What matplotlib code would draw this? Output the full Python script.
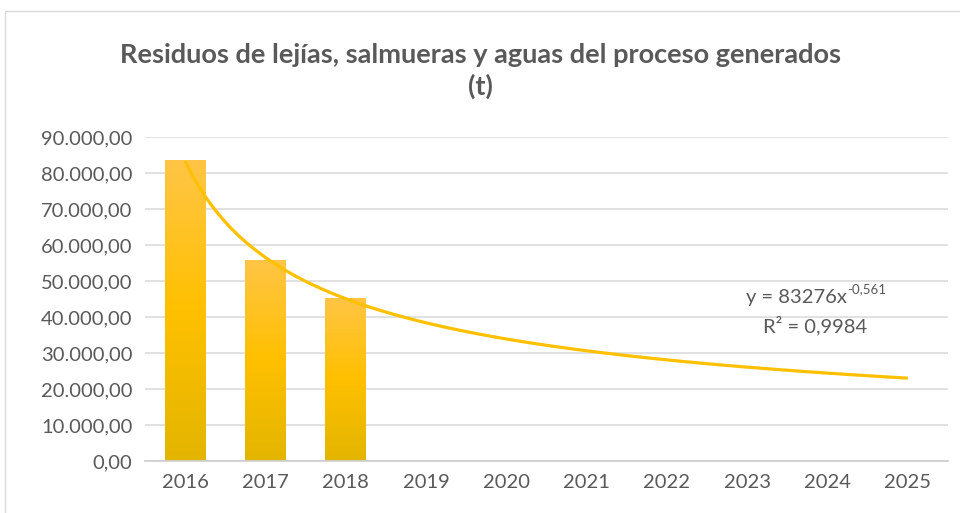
import numpy as np
import matplotlib
matplotlib.use("Agg")
import matplotlib.pyplot as plt
from matplotlib.colors import LinearSegmentedColormap
from matplotlib.patches import Rectangle

years = ["2016", "2017", "2018", "2019", "2020", "2021", "2022", "2023", "2024", "2025"]
values = [83600, 55900, 45400]
yticks = [0, 10000, 20000, 30000, 40000, 50000, 60000, 70000, 80000, 90000]
ytick_labels = ["0,00", "10.000,00", "20.000,00", "30.000,00", "40.000,00",
                "50.000,00", "60.000,00", "70.000,00", "80.000,00", "90.000,00"]
title = "Residuos de lejías, salmueras y aguas del proceso generados\n(t)"
eq_main = "y = 83276x"
eq_exp = "-0,561"
r2_text = "R² = 0,9984"

plt.rcParams['font.family'] = ['Lato', 'DejaVu Sans']

TXT = '#595959'
fig = plt.figure(figsize=(9.6, 5.13), dpi=100)
fig.patches.append(Rectangle((5/960, -0.01), 1.0, (513-11)/513 + 0.01, transform=fig.transFigure,
                             fill=False, edgecolor='#D9D9D9', linewidth=1.0))

ax = fig.add_axes([145/960, 52/513, 803/960, 324/513])
x = np.arange(len(years))

cmap = LinearSegmentedColormap.from_list('g', [(0, '#E3B500'), (0.5, '#FFC000'), (1, '#FFC546')])
grad = np.linspace(0, 1, 256).reshape(-1, 1)
bars = ax.bar(x[:len(values)], values, width=0.51, color='#FFC000', zorder=2)
for b in bars:
    b.set_alpha(0)
    x0, w, h = b.get_x(), b.get_width(), b.get_height()
    im = ax.imshow(grad, cmap=cmap, origin='lower', aspect='auto',
                   extent=[x0, x0 + w, 0, h], zorder=2)
    im.set_clip_path(Rectangle((x0, 0), w, h, transform=ax.transData))
ax.set_xlim(-0.5, len(years) - 0.5)
ax.set_ylim(0, 90000)

# power trendline fitted from the data (x = 1..n)
xs_fit = np.arange(1, len(values) + 1)
b_exp, ln_a = np.polyfit(np.log(xs_fit), np.log(values), 1)
xt = np.linspace(1, len(years), 300)
yt = np.exp(ln_a) * xt ** b_exp
ax.plot(xt - 1, yt, color='#FFC000', linewidth=2.3, zorder=3, solid_capstyle='butt')

ax.set_yticks(yticks)
ax.set_yticklabels(ytick_labels)
ax.set_xticks(x)
ax.set_xticklabels(years)
ax.tick_params(axis='both', length=0, labelsize=14.5, colors=TXT)
ax.tick_params(axis='y', pad=9)
ax.tick_params(axis='x', pad=9)
ax.grid(axis='y', color='#D9D9D9', linewidth=1.1, zorder=0)
ax.set_axisbelow(True)
for s in ['top', 'right', 'left']:
    ax.spines[s].set_visible(False)
ax.spines['bottom'].set_color('#D0D0D0')
ax.spines['bottom'].set_linewidth(1.3)

fig.text(0.5, 1 - 71/513, title, ha='center', va='center', fontsize=19.5,
         fontweight='bold', color=TXT, linespacing=1.3)

fig.text(847/960, 1 - 298/513, eq_main, ha='right', va='center', fontsize=14.5, color=TXT)
fig.text(847/960, 1 - 289/513, eq_exp, ha='left', va='center', fontsize=9.5, color=TXT)
fig.text(815/960, 1 - 326/513, r2_text, ha='center', va='center', fontsize=14.5, color=TXT)

fig.savefig('out.png', dpi=100)
